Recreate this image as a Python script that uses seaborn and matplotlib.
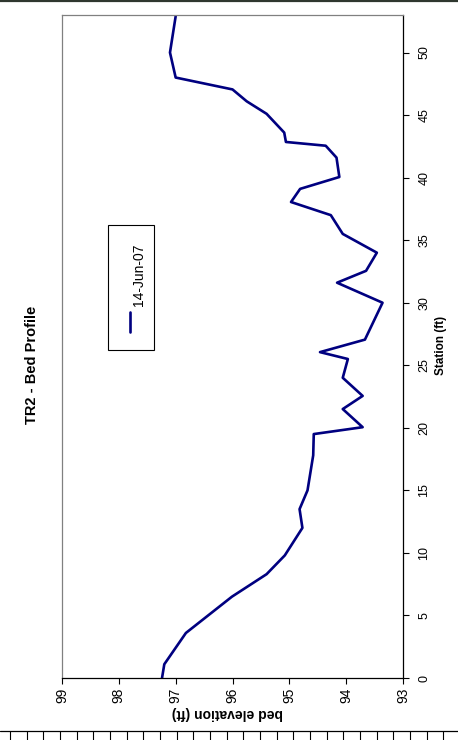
import numpy as np
import matplotlib
matplotlib.use('Agg')
import matplotlib.pyplot as plt
from matplotlib.lines import Line2D
from matplotlib.patches import Rectangle
import seaborn as sns

# bed profile TR2, survey of 14-Jun-07
station = [0, 1.1, 3.6, 6.5, 8.3, 9.8, 12.0, 13.5, 15.0, 17.8, 19.5, 20.05, 21.5,
           22.55, 24.0, 25.5, 26.05, 27.05, 30.0, 31.6, 32.55, 34.0, 35.5, 37.0,
           38.05, 39.1, 40.05, 41.6, 42.55, 42.85, 43.6, 45.1, 46.1, 47.05, 48.0,
           50.0, 52.9]
elevation = [97.24, 97.2, 96.82, 96.01, 95.40, 95.08, 94.77, 94.82, 94.68, 94.58,
             94.57, 93.71, 94.06, 93.71, 94.06, 93.97, 94.46, 93.67, 93.36, 94.16,
             93.65, 93.46, 94.06, 94.27, 94.97, 94.81, 94.12, 94.17, 94.36, 95.06,
             95.09, 95.40, 95.75, 96.0, 97.0, 97.1, 97.0]
series_label = '14-Jun-07'
elev_ticks = [99, 98, 97, 96, 95, 94, 93]
station_ticks = [0, 5, 10, 15, 20, 25, 30, 35, 40, 45, 50]

sns.set_style('white')
plt.rcParams['font.family'] = ['Liberation Sans', 'DejaVu Sans']
plt.rcParams.update({'text.color': 'black', 'axes.labelcolor': 'black',
                     'xtick.color': 'black', 'ytick.color': 'black'})

W, H = 458, 740
fig = plt.figure(figsize=(W / 100, H / 100), dpi=100)


def fx(px):
    return px / W


def fy(py):
    return 1 - py / H


# the page is turned a quarter: station runs up, elevation runs right-to-left
ax = fig.add_axes([fx(62), fy(678), fx(403) - fx(62), fy(15) - fy(678)])
sns.lineplot(x=elevation, y=station, sort=False, estimator=None, color='#000080',
             linewidth=1.9, ax=ax, legend=False)

ax.set_xlim(99, 93)
ax.set_ylim(0, 53)
ax.set_xticks(elev_ticks)
ax.set_yticks(station_ticks)
ax.yaxis.tick_right()
ax.tick_params(axis='both', direction='out', length=4, width=0.8, color='black')
ax.tick_params(axis='x', bottom=True, pad=3, labelsize=10)
ax.tick_params(axis='y', right=True, left=False, pad=7, labelsize=9)
for t in ax.get_xticklabels():
    t.set_rotation(90)
    t.set_va('top')
    t.set_ha('center')
for t in ax.get_yticklabels():
    t.set_rotation(90)
    t.set_va('center')

for side in ['top', 'left']:
    ax.spines[side].set_color('#808080')
for side in ['bottom', 'right']:
    ax.spines[side].set_color('black')
for s in ax.spines.values():
    s.set_linewidth(0.9)

ax.set_xlabel('bed elevation (ft)', fontsize=10, fontweight='bold', rotation=180)
ax.xaxis.set_label_coords((227 - 62) / 341, (678 - 713) / 663)
ax.xaxis.label.set_va('center')
ax.yaxis.set_label_position('right')
ax.set_ylabel('Station (ft)', fontsize=8.5, fontweight='bold', rotation=90)
ax.yaxis.set_label_coords((441 - 62) / 341, (678 - 345) / 663)
ax.yaxis.label.set_va('center')

fig.text(fx(32), fy(365), 'TR2 - Bed Profile', rotation=90, fontsize=10.5,
         fontweight='bold', ha='center', va='center')

# legend box, drawn turned like the rest
fig.add_artist(Rectangle((fx(108), fy(350)), fx(154) - fx(108), fy(225) - fy(350),
                         transform=fig.transFigure, facecolor='white',
                         edgecolor='black', linewidth=0.8))
fig.add_artist(Line2D([fx(130), fx(130)], [fy(332), fy(312)],
                      transform=fig.transFigure, color='#000080', linewidth=1.9))
fig.text(fx(139), fy(275), series_label, rotation=90, fontsize=10,
         ha='center', va='center')

# page border and ruler strip
fig.add_artist(Line2D([0, 1], [fy(1), fy(1)], transform=fig.transFigure,
                      color='#2f372f', linewidth=1.6))
fig.add_artist(Line2D([0, 1], [fy(731), fy(731)], transform=fig.transFigure,
                      color='black', linewidth=0.9))
for px in np.arange(10, 450, 50 / 3):
    fig.add_artist(Line2D([fx(px), fx(px)], [fy(731), fy(740)],
                          transform=fig.transFigure, color='black', linewidth=0.8))

fig.savefig('out.png', dpi=100)
